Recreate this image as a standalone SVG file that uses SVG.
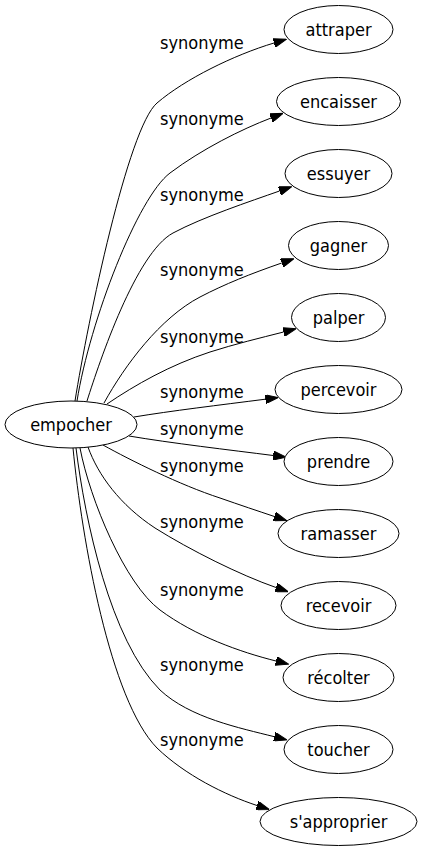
<svg xmlns="http://www.w3.org/2000/svg" width="422" height="851" viewBox="0 0 422 851">
<style>
.n ellipse{fill:#fff;stroke:#000;stroke-width:1}
text{font-family:"DejaVu Sans Condensed","Liberation Sans",sans-serif;font-size:18px;fill:#000}
.n text{text-anchor:middle}
.e path{fill:none;stroke:#000;stroke-width:1;marker-end:url(#arr)}
</style>
<defs>
<marker id="arr" viewBox="0 0 13 9" refX="0" refY="4.5" markerWidth="13" markerHeight="9" markerUnits="userSpaceOnUse" orient="auto">
<path d="M0,0 L13,4.5 L0,9 Z" fill="#000" stroke="#000" stroke-width="1"/>
</marker>
</defs>
<rect width="422" height="851" fill="#fff"/>
<g class="e" id="edges">
<path d="M75,401 C88,320 128,128 157,103 C185,79 234,55 274,43"/>
<path d="M77,401 C90,320 138,197 170,173 C202,149 241,129.5 271,118"/>
<path d="M87,401 C100,360 136,253 173,233 C203,217 249.5,201.6 279.5,191"/>
<path d="M104,403 C125,365 160,318 200,297 C225,284 250,274 281.7,263"/>
<path d="M107,404 C135,385 170,365 210,352 C235,344 260,338 283.6,332"/>
<path d="M134,417 C170,411 220,405 265.4,399.2"/>
<path d="M129,436 C170,443 230,450 273.2,455.5"/>
<path d="M103,445 C130,460 180,485 220,498 C240,505 258,511 274.4,516.5"/>
<path d="M88,447 C98,475 120,505 155,528 C190,550 240,575 276,587.5"/>
<path d="M80,448 C90,500 125,584 160,610 C195,636 240,652 276,661"/>
<path d="M76,448 C85,520 110,640 160,690 C190,718 240,728 274.3,736.7"/>
<path d="M73,448 C82,540 110,700 157,748 C185,775 225,795 257,805.5"/>
</g>
<g id="edge-labels">
<text x="160" y="49">synonyme</text>
<text x="160" y="125">synonyme</text>
<text x="160" y="201">synonyme</text>
<text x="160" y="276">synonyme</text>
<text x="160" y="343">synonyme</text>
<text x="160" y="398">synonyme</text>
<text x="160" y="435">synonyme</text>
<text x="160" y="472">synonyme</text>
<text x="160" y="528">synonyme</text>
<text x="160" y="596">synonyme</text>
<text x="160" y="671">synonyme</text>
<text x="160" y="746">synonyme</text>
</g>
<g class="n" id="empocher"><ellipse cx="71" cy="424.5" rx="66" ry="23.5"/><text x="71" y="430.5">empocher</text></g>
<g class="n" id="attraper"><ellipse cx="338.5" cy="29.5" rx="54.5" ry="24"/><text x="338.5" y="35.5">attraper</text></g>
<g class="n" id="encaisser"><ellipse cx="338.5" cy="101.5" rx="62" ry="24"/><text x="338.5" y="107.5">encaisser</text></g>
<g class="n" id="essuyer"><ellipse cx="338.5" cy="173.5" rx="53.5" ry="24"/><text x="338.5" y="179.5">essuyer</text></g>
<g class="n" id="gagner"><ellipse cx="338.5" cy="245.5" rx="50" ry="24"/><text x="338.5" y="251.5">gagner</text></g>
<g class="n" id="palper"><ellipse cx="338.5" cy="317.5" rx="47" ry="24"/><text x="338.5" y="323.5">palper</text></g>
<g class="n" id="percevoir"><ellipse cx="338.5" cy="389.5" rx="63.5" ry="24"/><text x="338.5" y="395.5">percevoir</text></g>
<g class="n" id="prendre"><ellipse cx="338.5" cy="461.5" rx="54.5" ry="24"/><text x="338.5" y="467.5">prendre</text></g>
<g class="n" id="ramasser"><ellipse cx="338.5" cy="533.5" rx="60.5" ry="24"/><text x="338.5" y="539.5">ramasser</text></g>
<g class="n" id="recevoir"><ellipse cx="338.5" cy="605.5" rx="57.5" ry="24"/><text x="338.5" y="611.5">recevoir</text></g>
<g class="n" id="recolter"><ellipse cx="338.5" cy="677.5" rx="55.5" ry="24"/><text x="338.5" y="683.5">récolter</text></g>
<g class="n" id="toucher"><ellipse cx="338.5" cy="749.5" rx="54.5" ry="24"/><text x="338.5" y="755.5">toucher</text></g>
<g class="n" id="sapproprier"><ellipse cx="338.5" cy="821.5" rx="78.5" ry="24"/><text x="338.5" y="827.5">s'approprier</text></g>
</svg>
